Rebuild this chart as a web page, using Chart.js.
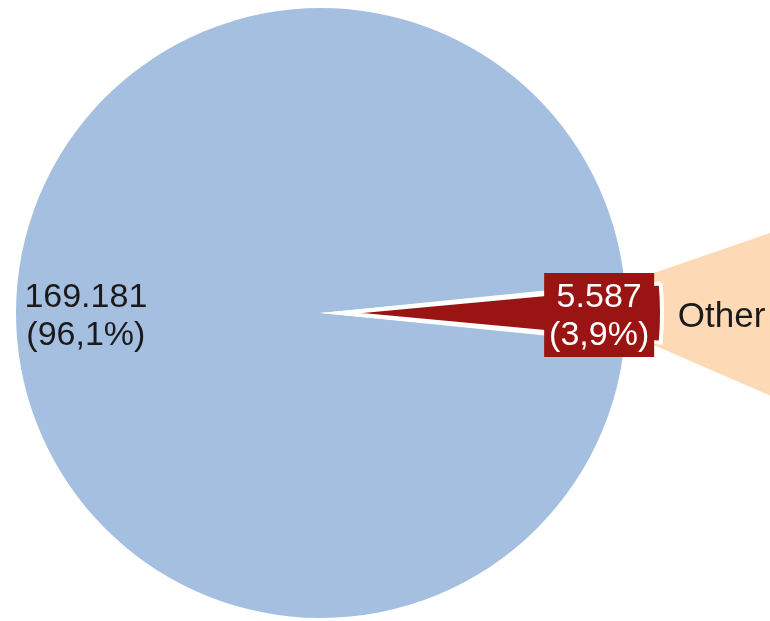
<!DOCTYPE html>
<html>
<head>
<meta charset="utf-8">
<script src="https://cdn.jsdelivr.net/npm/chart.js@4.4.0/dist/chart.umd.min.js"></script>
<style>
  html, body { margin: 0; padding: 0; background: #fff; }
  #wrap { position: relative; width: 770px; height: 621px; overflow: hidden; }
  .layer { position: absolute; left: 0; top: 0; width: 770px; height: 621px; }
</style>
</head>
<body>
<div id="wrap">
  <div class="layer"><canvas id="other"></canvas></div>
  <div class="layer"><canvas id="main"></canvas></div>
</div>
<script>
// main pie
const sliceLabels = ['169.181', '5.587'];
const sliceValues = [169.181, 5.587];
const slicePercents = ['(96,1%)', '(3,9%)'];
const sliceColors = ['#a4bfdf', '#9b1414'];

// the "Other" wedge on the right (visible share vs. rest)
const otherLabel = 'Other';
const otherValues = [42.4, 317.6];
const otherColors = ['#fdd9b6', 'rgba(0,0,0,0)'];

const FONT = '34px "Liberation Sans", Arial, sans-serif';
const LINE = 38;

const total = sliceValues.reduce((a, b) => a + b, 0);
const redDeg = sliceValues[1] / total * 360;

const pieLabels = {
  id: 'pieLabels',
  beforeDatasetsDraw(chart) {
    chart.ctx.miterLimit = 20;
  },
  afterDatasetsDraw(chart) {
    const ctx = chart.ctx;
    const meta = chart.getDatasetMeta(0);
    const place = [0.771, 0.912];
    ctx.save();
    ctx.font = FONT;
    ctx.textAlign = 'center';
    ctx.textBaseline = 'alphabetic';
    meta.data.forEach((arc, i) => {
      const p = arc.getProps(['x', 'y', 'startAngle', 'endAngle', 'outerRadius']);
      const mid = (p.startAngle + p.endAngle) / 2;
      const cx = p.x + Math.cos(mid) * p.outerRadius * place[i];
      const cy = p.y + Math.sin(mid) * p.outerRadius * place[i];
      if (i === 1) {
        ctx.fillStyle = sliceColors[1];
        ctx.fillRect(cx - 55, cy - 40, 110, 84);
        ctx.fillStyle = '#ffffff';
      } else {
        ctx.fillStyle = '#1a1a1a';
      }
      ctx.fillText(sliceLabels[i], cx, cy - 6);
      ctx.fillText(slicePercents[i], cx, cy - 6 + LINE);
    });
    ctx.restore();
  }
};

const otherText = {
  id: 'otherText',
  afterDatasetsDraw(chart) {
    const ctx = chart.ctx;
    const arc = chart.getDatasetMeta(0).data[0];
    const p = arc.getProps(['x', 'y', 'startAngle', 'endAngle', 'outerRadius']);
    const mid = (p.startAngle + p.endAngle) / 2;
    const cx = p.x + Math.cos(mid) * p.outerRadius * 0.487;
    const cy = p.y + Math.sin(mid) * p.outerRadius * 0.487;
    ctx.save();
    ctx.font = '35px "Liberation Sans", Arial, sans-serif';
    ctx.textAlign = 'center';
    ctx.fillStyle = '#1a1a1a';
    ctx.fillText(otherLabel, cx, cy + 16);
    ctx.restore();
  }
};

new Chart(document.getElementById('other'), {
  type: 'pie',
  data: {
    labels: [otherLabel, ''],
    datasets: [{
      data: otherValues,
      backgroundColor: otherColors,
      borderWidth: 0,
      radius: 330,
      rotation: 71
    }]
  },
  options: {
    responsive: true,
    maintainAspectRatio: false,
    animation: false,
    events: [],
    layout: { padding: { left: 352, right: 0, top: 0, bottom: 11 } },
    plugins: { legend: { display: false }, tooltip: { enabled: false } }
  },
  plugins: [otherText]
});

new Chart(document.getElementById('main'), {
  type: 'pie',
  data: {
    labels: sliceLabels,
    datasets: [{
      data: sliceValues,
      backgroundColor: sliceColors,
      borderColor: '#ffffff',
      borderWidth: [0, 4],
      borderJoinStyle: ['bevel', 'miter'],
      offset: [0, 80],
      radius: 305,
      rotation: 90 + redDeg / 2
    }]
  },
  options: {
    responsive: true,
    maintainAspectRatio: false,
    animation: false,
    events: [],
    layout: { padding: { left: 0, right: 128, top: 5, bottom: 0 } },
    plugins: { legend: { display: false }, tooltip: { enabled: false } }
  },
  plugins: [pieLabels]
});
</script>
</body>
</html>
